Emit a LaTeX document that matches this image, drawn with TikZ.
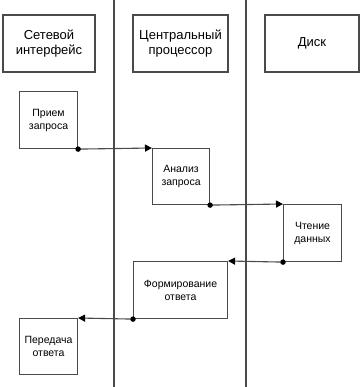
\documentclass[tikz,border=0pt]{standalone}
\usepackage{fontspec}
\setmainfont{Liberation Sans}
\usetikzlibrary{arrows.meta}
\definecolor{ln}{HTML}{4A4A4A}
\begin{document}
\begin{tikzpicture}[x=1pt,y=-1pt,
  hdr/.style={draw=ln,line width=1.1pt,rectangle,minimum height=57pt,inner sep=0pt,align=center,font=\fontsize{13}{15.5}\selectfont},
  act/.style={draw=ln,line width=1.1pt,rectangle,inner sep=0pt,align=center,anchor=north west,font=\fontsize{10.5}{13}\selectfont},
  lane/.style={draw=ln,line width=1.3pt},
  flow/.style={draw=ln,line width=1.1pt,-{Triangle[length=7pt,width=7pt,color=black]}},
  dot/.style={circle,fill=black,inner sep=0pt,minimum size=5.5pt}]
\useasboundingbox (0,0) rectangle (360,387);
\coordinate (l1t) at (114,0); \coordinate (l1b) at (114,387);
\coordinate (l2t) at (246,0); \coordinate (l2b) at (246,387);
\draw[lane] (l1t) -- (l1b);
\draw[lane] (l2t) -- (l2b);
\node[hdr,minimum width=92pt] (h1) at (49,43.5) {Сетевой\\интерфейс};
\node[hdr,minimum width=95pt] (h2) at (180.5,43.5) {Центральный\\процессор};
\node[hdr,minimum width=94pt] (h3) at (312,43.5) {Диск};
\node[act,minimum width=58pt,minimum height=57pt] (a1) at (19,91) {Прием\\запроса};
\node[act,minimum width=57pt,minimum height=56pt] (a2) at (152,148) {Анализ\\запроса};
\node[act,minimum width=58pt,minimum height=57pt] (a3) at (283,204) {Чтение\\данных};
\node[act,minimum width=94pt,minimum height=57pt] (a4) at (133,261) {Формирование\\ответа};
\node[act,minimum width=58pt,minimum height=56pt] (a5) at (19,318) {Передача\\ответа};
\draw[flow] (a1.south east) -- (a2.north west);
\draw[flow] (a2.south east) -- (a3.north west);
\draw[flow] (a3.south west) -- (a4.north east);
\draw[flow] (a4.south west) -- (a5.north east);
\node[dot] (d1) at (a1.south east) {};
\node[dot] (d2) at (a2.south east) {};
\node[dot] (d3) at (a3.south west) {};
\node[dot] (d4) at (a4.south west) {};
\end{tikzpicture}
\end{document}
